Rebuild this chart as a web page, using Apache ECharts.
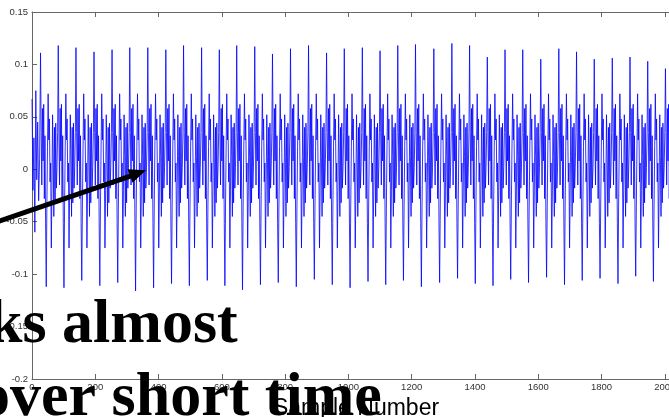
<!DOCTYPE html>
<html>
<head>
<meta charset="utf-8">
<title>Sample Number</title>
<script src="https://cdn.jsdelivr.net/npm/echarts@6/dist/echarts.min.js"></script>
<style>
  html, body { margin: 0; padding: 0; background: #fff; }
  .echarts_1 { width: 669px; height: 417px; }
</style>
</head>
<body>
<div class="echarts_1"></div>
<script>
// waveform

var sampleCount = 2048;

// sample number of the big positive spike in each pitch period
var peakSamples = [27, 83, 139, 196, 253, 309, 366, 423, 479, 536, 592, 647, 704, 760, 817, 874, 931, 987,
  1044, 1100, 1156, 1212, 1270, 1327, 1383, 1439, 1495, 1551, 1608, 1665, 1721, 1777, 1834, 1890, 1946, 2002];
// height of that spike
var peakValues = [0.111, 0.118, 0.116, 0.112, 0.114, 0.116, 0.116, 0.114, 0.118, 0.116, 0.114, 0.118,
  0.117, 0.110, 0.115, 0.118, 0.111, 0.115, 0.116, 0.113, 0.118, 0.119, 0.115, 0.120,
  0.118, 0.107, 0.114, 0.114, 0.105, 0.115, 0.112, 0.105, 0.106, 0.107, 0.103, 0.096];
// depth of the big negative spike in each period
var troughValues = [-0.112, -0.113, -0.106, -0.111, -0.108, -0.116, -0.113, -0.109, -0.111, -0.106, -0.111, -0.115,
  -0.110, -0.108, -0.112, -0.105, -0.110, -0.113, -0.107, -0.110, -0.106, -0.112, -0.108, -0.104,
  -0.109, -0.111, -0.105, -0.108, -0.103, -0.110, -0.106, -0.104, -0.109, -0.102, -0.107, -0.104];

// one period of the wave, every 2 samples after the spike ("P" = spike, "T" = negative spike)
var cycleOffsets = [0, 2, 4, 6, 8, 10, 12, 14, 16, 18, 20, 22, 24, 26, 28, 30, 32, 34, 36, 38, 40, 42, 44, 46, 48, 50, 52, 54];
var cycleValues = ["P", 0.035, -0.015, 0.058, 0.008, 0.062, -0.028, 0.032, -0.052, "T", -0.035, 0.022, 0.072, 0.028,
  0.048, -0.012, 0.006, -0.075, -0.02, 0.052, 0.012, -0.045, 0.04, -0.032, 0.044, -0.018, 0.002, 0.035];

// samples before the first spike
var leadSamples = [0, 3, 6, 9, 12, 15, 18, 21, 24];
var leadValues = [0.067, -0.02, 0.03, -0.06, 0.075, -0.01, 0.045, -0.03, 0.01];

var xTicks = [0, 200, 400, 600, 800, 1000, 1200, 1400, 1600, 1800, 2000];
var yTicks = [-0.2, -0.15, -0.1, -0.05, 0, 0.05, 0.1, 0.15];

var wave = [];
for (var i = 0; i < leadSamples.length; i++) {
  wave.push([leadSamples[i], leadValues[i]]);
}
for (var k = 0; k < peakSamples.length; k++) {
  var start = peakSamples[k];
  var len = k + 1 < peakSamples.length ? peakSamples[k + 1] - start : 56;
  for (var j = 0; j < cycleOffsets.length; j++) {
    var x = start + cycleOffsets[j] * len / 56;
    if (x > sampleCount) break;
    var v = cycleValues[j];
    if (v === "P") v = peakValues[k];
    if (v === "T") v = troughValues[k];
    wave.push([x, v]);
  }
}

var echarts1 = echarts.init(document.querySelector(".echarts_1"));

var axisColor = "#666";
var labelStyle = { fontFamily: "Liberation Sans", fontSize: 9.5, color: "#333" };
var bigText = { fontFamily: "Liberation Serif", fontWeight: "bold", fontSize: 62, fill: "#000" };

var option = {
  animation: false,
  grid: { left: 32, top: 12, width: 648, height: 367, outerBoundsMode: "none", containLabel: false },
  xAxis: [
    {
      type: "value",
      min: 0,
      max: sampleCount,
      interval: 200,
      name: "Sample Number",
      nameLocation: "middle",
      nameGap: 28,
      nameTextStyle: { fontFamily: "Liberation Sans", fontSize: 23, color: "#000", verticalAlign: "middle" },
      axisLine: { show: true, onZero: false, lineStyle: { color: axisColor, width: 1 } },
      axisTick: { show: true, inside: true, length: 5, lineStyle: { color: axisColor } },
      splitLine: { show: false },
      axisLabel: Object.assign({
        margin: 3,
        formatter: function (val) {
          return xTicks.indexOf(val) >= 0 ? String(val) : "";
        }
      }, labelStyle)
    },
    {
      type: "value",
      position: "top",
      min: 0,
      max: sampleCount,
      interval: 200,
      axisLine: { show: true, onZero: false, lineStyle: { color: axisColor, width: 1 } },
      axisTick: { show: true, inside: true, length: 5, lineStyle: { color: axisColor } },
      splitLine: { show: false },
      axisLabel: { show: false }
    }
  ],
  yAxis: {
    type: "value",
    min: -0.2,
    max: 0.15,
    interval: 0.05,
    axisLine: { show: true, onZero: false, lineStyle: { color: axisColor, width: 1 } },
    axisTick: { show: true, inside: true, length: 5, lineStyle: { color: axisColor } },
    splitLine: { show: false },
    axisLabel: Object.assign({
      margin: 4,
      formatter: function (val) {
        var r = Math.round(val * 100) / 100;
        for (var i = 0; i < yTicks.length; i++) {
          if (Math.abs(yTicks[i] - r) < 1e-9) return String(yTicks[i]);
        }
        return "";
      }
    }, labelStyle)
  },
  series: [
    {
      type: "line",
      data: wave,
      showSymbol: false,
      symbol: "none",
      sampling: "none",
      lineStyle: { color: "#0000ff", width: 0.8 },
      clip: true
    }
  ],
  graphic: [
    {
      type: "line",
      z: 100,
      shape: { x1: -3, y1: 222, x2: 131, y2: 175.8 },
      style: { stroke: "#000", lineWidth: 5 }
    },
    {
      type: "polygon",
      z: 100,
      shape: { points: [[146, 170.3], [132.5, 182.8], [127.5, 169.2]] },
      style: { fill: "#000" }
    },
    {
      type: "text",
      z: 100,
      x: -12,
      y: 326,
      style: Object.assign({ text: "ks almost", verticalAlign: "middle" }, bigText)
    },
    {
      type: "text",
      z: 100,
      x: -21,
      y: 399,
      style: Object.assign({ text: "over short time", verticalAlign: "middle" }, bigText)
    }
  ]
};

echarts1.setOption(option);
</script>
</body>
</html>
